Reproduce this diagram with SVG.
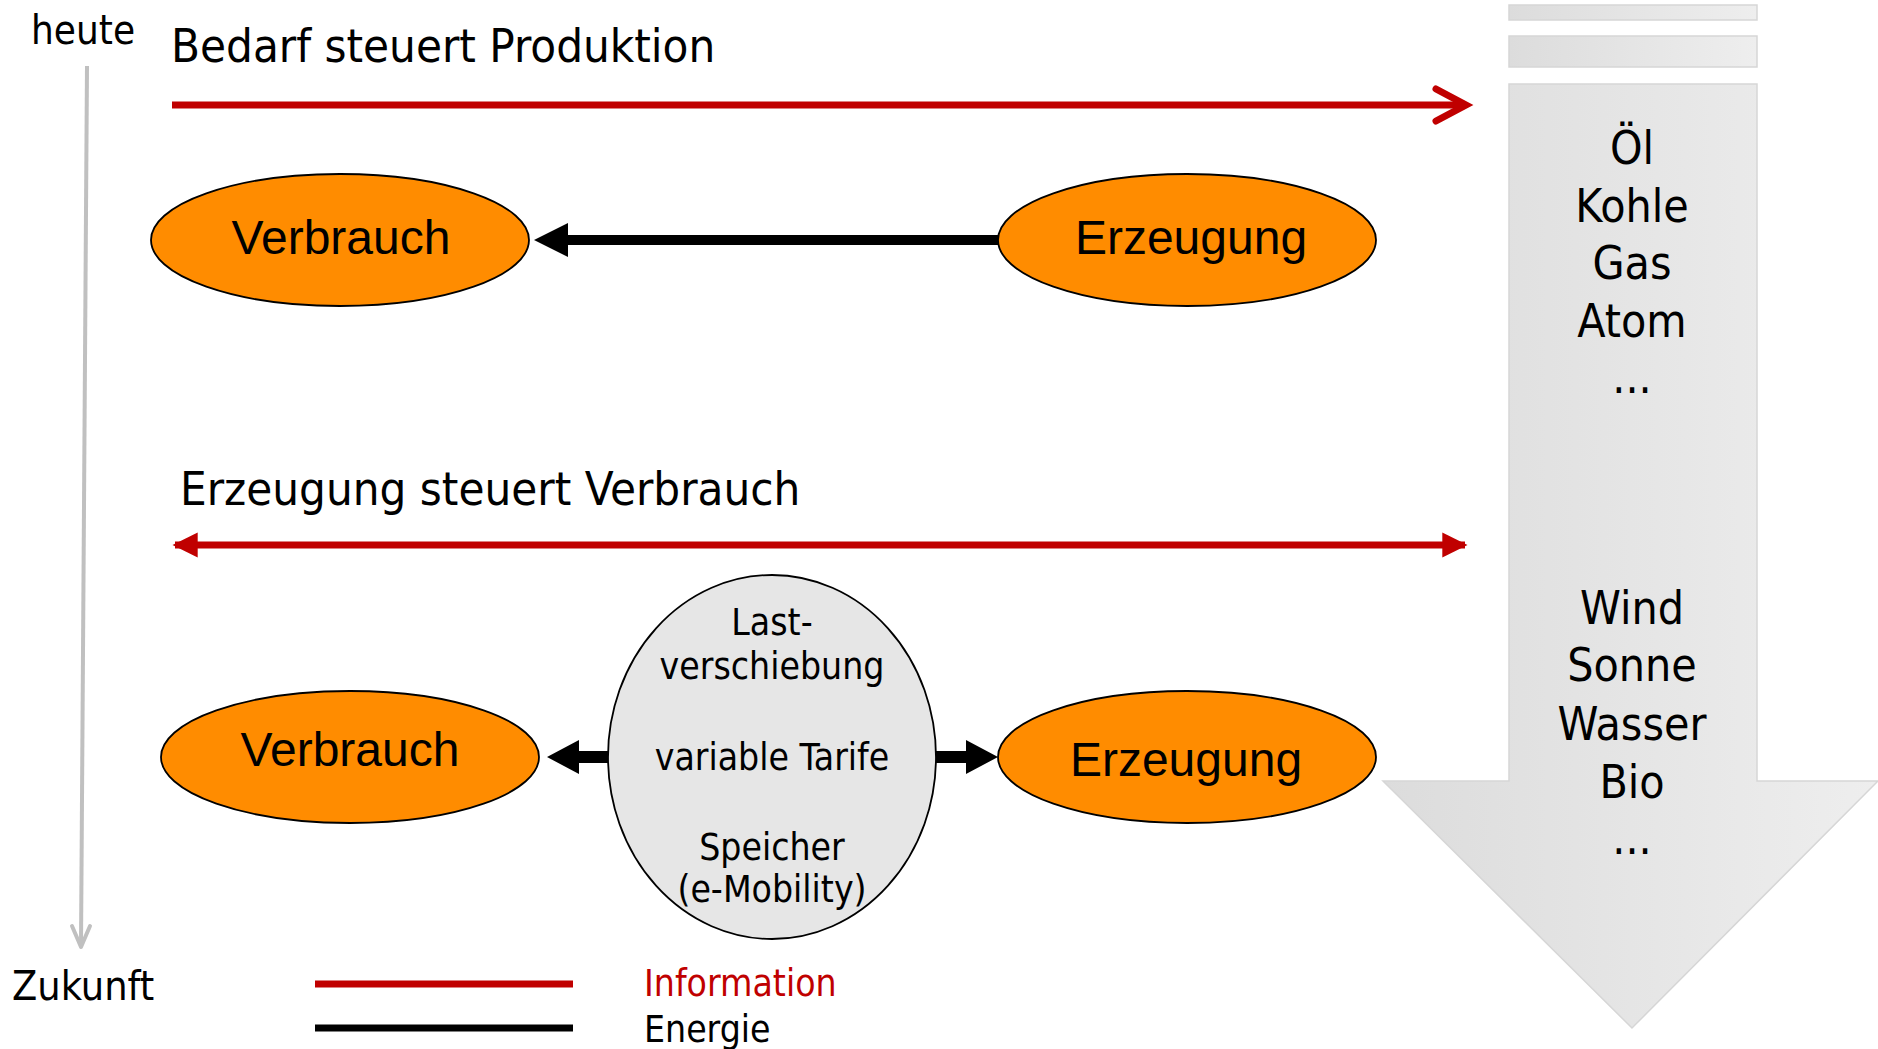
<svg xmlns="http://www.w3.org/2000/svg" width="1878" height="1049" viewBox="0 0 1878 1049">
<defs>
<style>
.t{font-family:"DejaVu Sans Condensed","DejaVu Sans",sans-serif;font-stretch:condensed;fill:#000}
.a{font-family:"Liberation Sans",Arial,sans-serif;fill:#000}
.node{fill:#ff8c00;stroke:#000;stroke-width:1.8}
.mid{fill:#e6e6e6;stroke:#000;stroke-width:1.8}
.red{stroke:#c00000;stroke-width:7;fill:none}
.en{fill:#000;stroke:none}
</style>
<linearGradient id="g" x1="0" x2="1" y1="0" y2="0">
<stop offset="0" stop-color="#dcdcdc"/>
<stop offset="1" stop-color="#eeeeee"/>
</linearGradient>
<marker id="redTri" viewBox="0 0 10 10" refX="9" refY="5" markerWidth="3.6" markerHeight="3.6" orient="auto-start-reverse" markerUnits="strokeWidth">
<path d="M0,0 L10,5 L0,10 z" fill="#c00000"/>
</marker>
</defs>

<g id="time-axis">
<line x1="87" y1="66" x2="81" y2="945" stroke="#c0c0c0" stroke-width="4"/>
<polyline points="72,926 81,947 90,926" fill="none" stroke="#c0c0c0" stroke-width="4" stroke-linecap="round" stroke-linejoin="round"/>
<text class="t" x="31" y="44" font-size="40">heute</text>
<text class="t" x="12" y="1000" font-size="41">Zukunft</text>
</g>

<g id="source-arrow">
<rect x="1509" y="5" width="248" height="15" fill="url(#g)" stroke="#d6d6d6" stroke-width="1.5"/>
<rect x="1509" y="36" width="248" height="31" fill="url(#g)" stroke="#d6d6d6" stroke-width="1.5"/>
<path d="M1509,84 L1757,84 L1757,781 L1878,781 L1632,1028 L1383,781 L1509,781 Z" fill="url(#g)" stroke="#d6d6d6" stroke-width="1.5"/>
<g class="t" font-size="46" text-anchor="middle">
<text x="1632" y="164">Öl</text>
<text x="1632" y="222">Kohle</text>
<text x="1632" y="279">Gas</text>
<text x="1632" y="337">Atom</text>
<text x="1632" y="393">...</text>
<text x="1632" y="624">Wind</text>
<text x="1632" y="681">Sonne</text>
<text x="1632" y="740">Wasser</text>
<text x="1632" y="798">Bio</text>
<text x="1632" y="854">...</text>
</g>
</g>

<g id="titles">
<text class="t" x="171" y="62" font-size="47">Bedarf steuert Produktion</text>
<text class="t" x="180" y="505" font-size="47">Erzeugung steuert Verbrauch</text>
</g>

<g id="connectors">
<line class="red" x1="172" y1="105" x2="1464" y2="105"/>
<polyline points="1436,89 1466,105 1436,121" fill="none" stroke="#c00000" stroke-width="7" stroke-linecap="round" stroke-linejoin="miter"/>
<line class="red" x1="175" y1="545" x2="1465" y2="545" marker-start="url(#redTri)" marker-end="url(#redTri)"/>
<path class="en" d="M998,235 L568,235 L568,223 L534,240 L568,257 L568,245 L998,245 Z"/>
<path class="en" d="M609,751 L579,751 L579,740 L547,757 L579,774 L579,763 L609,763 Z"/>
<path class="en" d="M936,751 L966,751 L966,740 L998,757 L966,774 L966,763 L936,763 Z"/>
</g>

<g id="verbrauch-top">
<ellipse class="node" cx="340" cy="240" rx="189" ry="66"/>
<text class="a" x="341" y="254" font-size="48" text-anchor="middle">Verbrauch</text>
</g>
<g id="erzeugung-top">
<ellipse class="node" cx="1187" cy="240" rx="189" ry="66"/>
<text class="a" x="1191" y="254" font-size="48" text-anchor="middle">Erzeugung</text>
</g>

<g id="verbrauch-bottom">
<ellipse class="node" cx="350" cy="757" rx="189" ry="66"/>
<text class="a" x="350" y="766" font-size="48" text-anchor="middle">Verbrauch</text>
</g>
<g id="erzeugung-bottom">
<ellipse class="node" cx="1187" cy="757" rx="189" ry="66"/>
<text class="a" x="1186" y="776" font-size="48" text-anchor="middle">Erzeugung</text>
</g>

<g id="massnahmen">
<ellipse class="mid" cx="772" cy="757" rx="164" ry="182"/>
<g class="t" font-size="37" text-anchor="middle">
<text x="772" y="635">Last-</text>
<text x="772" y="679">verschiebung</text>
<text x="772" y="770">variable Tarife</text>
<text x="772" y="860">Speicher</text>
<text x="772" y="902">(e-Mobility)</text>
</g>
</g>

<g id="legend">
<line x1="315" y1="984" x2="573" y2="984" stroke="#c00000" stroke-width="7"/>
<line x1="315" y1="1028" x2="573" y2="1028" stroke="#000" stroke-width="7"/>
<text class="t" x="644" y="996" font-size="37" style="fill:#c00000">Information</text>
<text class="t" x="644" y="1042" font-size="37">Energie</text>
</g>
</svg>
